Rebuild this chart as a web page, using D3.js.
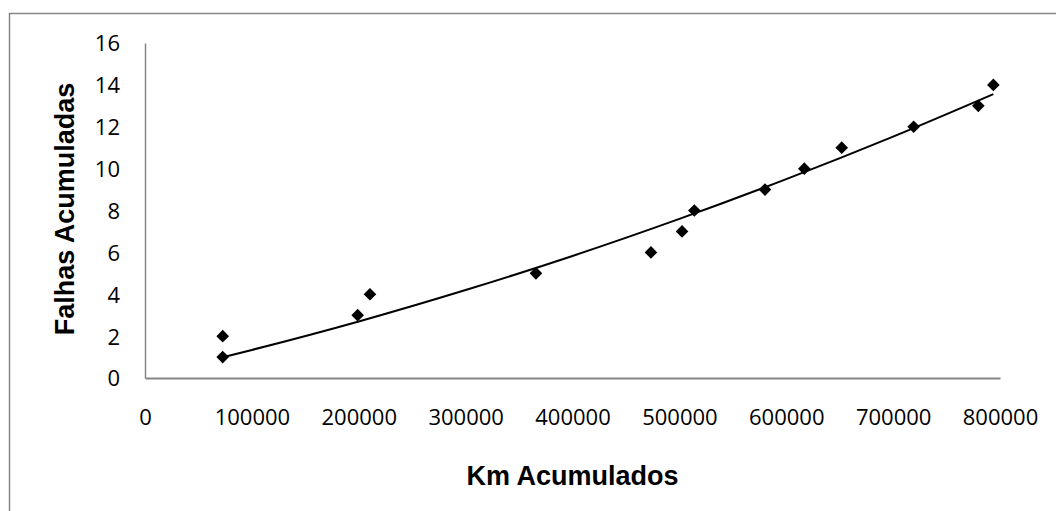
<!DOCTYPE html>
<html>
<head>
<meta charset="utf-8">
<script src="https://cdn.jsdelivr.net/npm/d3@7"></script>
<style>
    body { margin: 0; background: #fff; }
    .tick text { font-family: "Open Sans", sans-serif; font-size: 22px; fill: #000; }
    .title { font-family: "Liberation Sans", Arial, sans-serif; font-size: 27px; font-weight: bold; }
</style>
</head>
<body>
<div id="chart"></div>
<script>
// accumulated km vs accumulated failures

var kmAcumulados = [72700, 72700, 199000, 210500, 365800, 473400, 502500, 514000, 580100, 616900, 651900, 719200, 779700, 793800];
var falhasAcumuladas = [1, 2, 3, 4, 5, 6, 7, 8, 9, 10, 11, 12, 13, 14];

// trend line
var trendKm = [72700, 100000, 200000, 300000, 400000, 500000, 600000, 700000, 793800];
var trendFalhas = [0.99, 1.34, 2.70, 4.20, 5.83, 7.60, 9.50, 11.53, 13.56];

var xTicks = [0, 100000, 200000, 300000, 400000, 500000, 600000, 700000, 800000];
var yTicks = [0, 2, 4, 6, 8, 10, 12, 14, 16];

var margin = {
    left: 145,
    right: 56,
    top: 43,
    bottom: 133
}

var width = 1056 - margin.left - margin.right,
    height = 511 - margin.top - margin.bottom;

var svg = d3.select("#chart")
    .append("svg")
    .attr("width", 1056)
    .attr("height", 511);

//outer frame of the chart
svg.append("rect")
    .attr("x", 9.5)
    .attr("y", 13.5)
    .attr("width", 1100)
    .attr("height", 600)
    .attr("fill", "none")
    .attr("stroke", "#868686")
    .attr("stroke-width", 1.5);

var xScale = d3.scaleLinear()
    .domain([0, 800000])
    .range([0, width]);

var yScale = d3.scaleLinear()
    .domain([0, 16])
    .range([height, 0]);

var chartGroup = svg.append("g")
    .attr("transform", "translate(" + margin.left + "," + margin.top + ")");

var xAxis = d3.axisBottom(xScale)
    .tickValues(xTicks)
    .tickSize(0)
    .tickPadding(31)
    .tickFormat(d3.format("d"));

var yAxis = d3.axisLeft(yScale)
    .tickValues(yTicks)
    .tickSize(0)
    .tickPadding(25);

var gx = chartGroup.append("g")
    .attr("class", "axis x")
    .attr("transform", "translate(0," + height + ")")
    .call(xAxis);

var gy = chartGroup.append("g")
    .attr("class", "axis y")
    .call(yAxis);

gx.select(".domain").attr("stroke", "#868686").attr("stroke-width", 2);
gy.select(".domain").attr("stroke", "#868686").attr("stroke-width", 1.5);
gy.selectAll(".tick text").attr("dy", "0.36em");

//trend line
var line = d3.line()
    .x(function (d, i) { return xScale(trendKm[i]); })
    .y(function (d) { return yScale(d); })
    .curve(d3.curveMonotoneX);

chartGroup.append("path")
    .attr("d", line(trendFalhas))
    .attr("fill", "none")
    .attr("stroke", "#000")
    .attr("stroke-width", 2);

//diamond markers
chartGroup.selectAll(".pt")
    .data(falhasAcumuladas)
    .enter()
    .append("path")
    .attr("class", "pt")
    .attr("d", d3.symbol().type(d3.symbolSquare).size(80))
    .attr("transform", function (d, i) {
        return "translate(" + xScale(kmAcumulados[i]) + "," + yScale(d) + ") rotate(45)";
    })
    .attr("fill", "#000");

//axis titles
svg.append("text")
    .attr("class", "title")
    .attr("x", margin.left + width / 2)
    .attr("y", 485)
    .attr("text-anchor", "middle")
    .text("Km Acumulados");

svg.append("text")
    .attr("class", "title")
    .attr("transform", "translate(74," + 209 + ") rotate(-90)")
    .attr("text-anchor", "middle")
    .text("Falhas Acumuladas");
</script>
</body>
</html>
